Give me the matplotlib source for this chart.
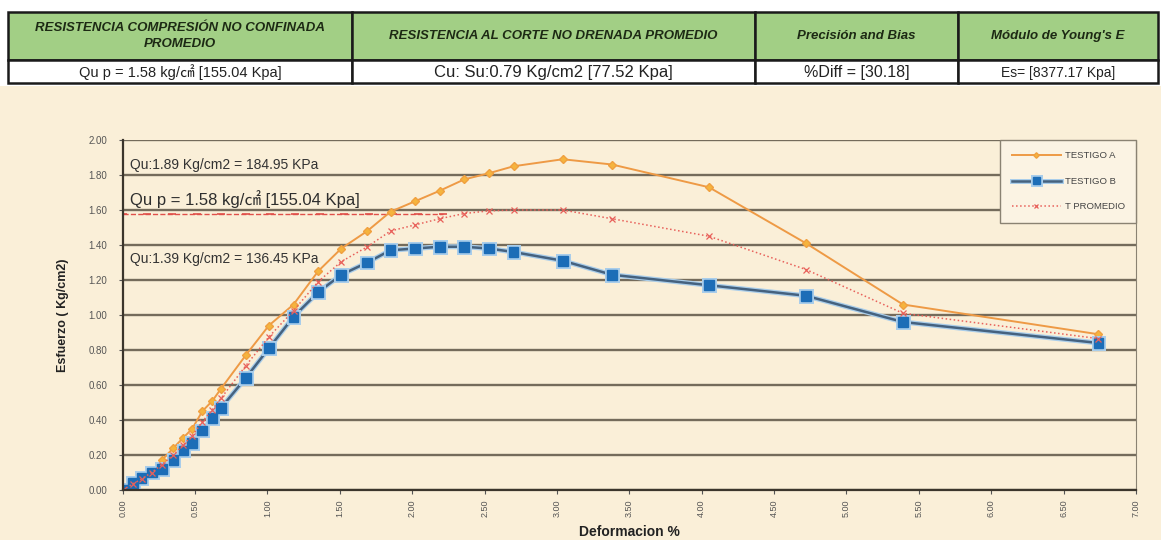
import matplotlib
matplotlib.use("Agg")
from matplotlib import pyplot as plt
from matplotlib.patches import Rectangle
import matplotlib.patheffects as pe
import numpy as np

# deformation (%) of each reading
deformacion = [0.00, 0.07, 0.13, 0.20, 0.27, 0.35, 0.42, 0.48, 0.55, 0.62, 0.68,
               0.85, 1.01, 1.18, 1.35, 1.51, 1.69, 1.85, 2.02, 2.19, 2.36, 2.53,
               2.70, 3.04, 3.38, 4.05, 4.72, 5.39, 6.74]

testigo_a = [0.00, 0.03, 0.06, 0.10, 0.17, 0.24, 0.30, 0.35, 0.45, 0.51, 0.58,
             0.77, 0.94, 1.06, 1.25, 1.38, 1.48, 1.59, 1.65, 1.71, 1.775, 1.81,
             1.85, 1.89, 1.86, 1.73, 1.41, 1.06, 0.89]

testigo_b = [0.00, 0.04, 0.07, 0.10, 0.12, 0.17, 0.225, 0.27, 0.34, 0.41, 0.47,
             0.64, 0.81, 0.99, 1.13, 1.23, 1.30, 1.37, 1.38, 1.39, 1.39, 1.38,
             1.36, 1.31, 1.23, 1.17, 1.11, 0.96, 0.84]

t_promedio = [0.00, 0.035, 0.063, 0.10, 0.145, 0.20, 0.26, 0.31, 0.39, 0.46, 0.525,
              0.71, 0.875, 1.025, 1.19, 1.305, 1.39, 1.48, 1.515, 1.55, 1.58, 1.595,
              1.60, 1.60, 1.55, 1.45, 1.26, 1.01, 0.865]

# average Qu reference line
qu_p_x = [0.00, 0.17, 0.34, 0.51, 0.68, 0.85, 1.02, 1.19, 1.36, 1.53, 1.70, 1.87, 2.04, 2.21]
qu_p_y = [1.58] * len(qu_p_x)

header_labels = ["RESISTENCIA COMPRESIÓN NO CONFINADA\nPROMEDIO",
                 "RESISTENCIA AL CORTE NO DRENADA PROMEDIO",
                 "Precisión and Bias",
                 "Módulo de Young's E"]
value_labels = ["Qu p = 1.58 kg/㎠ [155.04 Kpa]",
                "Cu: Su:0.79 Kg/cm2 [77.52 Kpa]",
                "%Diff = [30.18]",
                "Es= [8377.17 Kpa]"]
col_edges = [8, 352, 755, 958, 1158]
value_sizes = [10.5, 12, 11.5, 10]

FONT = ["Liberation Sans", "Noto Sans CJK JP", "DejaVu Sans"]
plt.rcParams["font.family"] = FONT

W, H = 1161, 540
fig = plt.figure(figsize=(W / 100, H / 100), dpi=100)
fig.patch.set_facecolor("white")

# beige chart background
bg = fig.add_axes([0, 0, 1, 1 - 86 / H])
bg.set_facecolor("#FAEFD8")
bg.set_xticks([])
bg.set_yticks([])
for s in bg.spines.values():
    s.set_visible(False)

# summary table on top
tab = fig.add_axes([0, 0, 1, 1])
tab.set_xlim(0, W)
tab.set_ylim(H, 0)
tab.axis("off")
row_top, row_mid, row_bot = 12, 60, 83
for i in range(4):
    x0, x1 = col_edges[i], col_edges[i + 1]
    tab.add_patch(Rectangle((x0, row_top), x1 - x0, row_mid - row_top,
                            facecolor="#A2CF85", edgecolor="#1a1a1a", lw=1.8))
    tab.add_patch(Rectangle((x0, row_mid), x1 - x0, row_bot - row_mid,
                            facecolor="white", edgecolor="#1a1a1a", lw=1.8))
    tab.text((x0 + x1) / 2, (row_top + row_mid) / 2, header_labels[i],
             ha="center", va="center", fontsize=9.5, fontweight="bold",
             fontstyle="italic", color="#1d2a14", linespacing=1.4)
    tab.text((x0 + x1) / 2, (row_mid + row_bot) / 2 + 1, value_labels[i],
             ha="center", va="center", fontsize=value_sizes[i], color="#222222")

# main chart
ax = fig.add_axes([122.7 / W, 1 - 490 / H, (1136 - 122.7) / W, 350 / H])
ax.set_facecolor("none")
ax.set_xlim(0, 7)
ax.set_ylim(0, 2)
ax.set_xticks(np.arange(0, 7.01, 0.5))
ax.set_xticklabels([f"{v:.2f}" for v in np.arange(0, 7.01, 0.5)],
                   rotation=90, fontsize=6.5, color="#555555")
ax.set_yticks(np.arange(0, 2.01, 0.2))
ax.set_yticklabels([f"{v:.2f}" for v in np.arange(0, 2.01, 0.2)],
                   fontsize=7, color="#555555")
ax.tick_params(length=3, color="#555555")
ax.tick_params(axis="y", pad=8)
ax.yaxis.grid(True, color="#746b5b", lw=1.7)
ax.set_axisbelow(True)
for side in ["left", "bottom"]:
    ax.spines[side].set_color("#3b352c")
    ax.spines[side].set_linewidth(1.6)
ax.spines["right"].set_color("#8a8272")
ax.spines["top"].set_visible(False)

ax.plot(qu_p_x, qu_p_y, color="#E0504A", ls="--", lw=1.0, marker="_",
        ms=6, mew=1.2, label="_nolegend_")
ax.plot(deformacion, testigo_a, color="#EE9A45", lw=1.4, marker="D", ms=4,
        mfc="#F5B43E", mec="#F0A040", label="TESTIGO A")
ax.plot(deformacion, testigo_b, color="#45627F", lw=1.8, marker="s", ms=7,
        mfc="#1C6DB7", mec="#1C6DB7", label="TESTIGO B",
        path_effects=[pe.Stroke(linewidth=3.6, foreground="#a9cdea"), pe.Normal()])
ax.plot(deformacion, t_promedio, color="#E8605A", lw=1.1, ls=":", marker="x",
        ms=4, mew=0.9, label="T PROMEDIO")

ax.text(0.05, 1.855, "Qu:1.89 Kg/cm2 = 184.95 KPa", fontsize=10,
        color="#333333", va="center")
ax.text(0.05, 1.61, "Qu p = 1.58 kg/㎠ [155.04 Kpa]", fontsize=12,
        color="#2e2e2e", va="bottom")
ax.text(0.05, 1.32, "Qu:1.39 Kg/cm2 = 136.45 KPa", fontsize=10,
        color="#333333", va="center")

ax.set_ylabel("Esfuerzo ( Kg/cm2)", fontsize=9, fontweight="bold",
              color="#222222", labelpad=14)
ax.set_xlabel("Deformacion %", fontsize=10, fontweight="bold",
              color="#222222", labelpad=6)

leg = ax.legend(loc="upper right", bbox_to_anchor=(1.0, 1.0), fontsize=6.8,
                frameon=True, fancybox=False, borderaxespad=0,
                handlelength=5.2, labelspacing=1.75, borderpad=1.2,
                handletextpad=0.4, markerscale=0.7)
leg.get_frame().set_facecolor("#FBF3E3")
leg.get_frame().set_edgecolor("#8a8272")
leg.get_frame().set_alpha(1)
for t in leg.get_texts():
    t.set_color("#444444")

fig.savefig("out.png", dpi=100)
